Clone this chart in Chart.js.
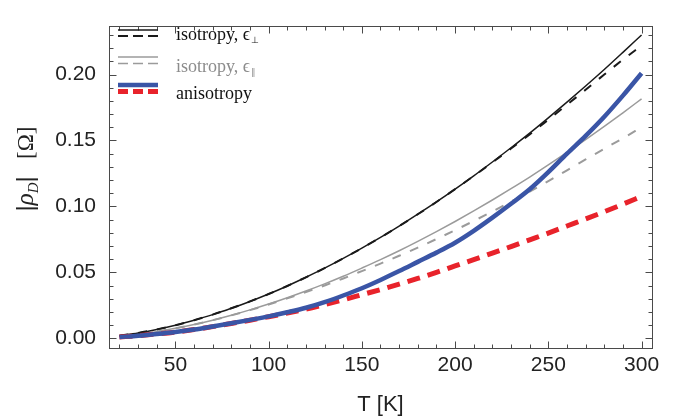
<!DOCTYPE html>
<html><head><meta charset="utf-8">
<script src="https://cdn.jsdelivr.net/npm/chart.js@4.4.0/dist/chart.umd.min.js"></script>
<style>html,body{margin:0;padding:0;background:#fff;}#wrap{width:674px;height:416px;}</style>
</head><body><div id="wrap"><canvas id="c" width="674" height="416"></canvas></div>
<script>
// ---- data ----
const temperatures = [20,30,40,50,60,70,80,90,100,110,120,130,140,150,160,170,180,190,200,210,220,230,240,250,260,270,280,290,300];
const isoPerpSolid = [0.0020,0.0041,0.0068,0.0100,0.0138,0.0180,0.0228,0.0280,0.0336,0.0397,0.0463,0.0532,0.0606,0.0684,0.0765,0.0851,0.0941,0.1034,0.1131,0.1232,0.1337,0.1445,0.1556,0.1672,0.1791,0.1913,0.2038,0.2168,0.2300];
const isoPerpDashed = [0.0020,0.0041,0.0068,0.0100,0.0138,0.0180,0.0228,0.0280,0.0336,0.0397,0.0463,0.0532,0.0606,0.0684,0.0765,0.0851,0.0941,0.1034,0.1131,0.1231,0.1334,0.1439,0.1546,0.1658,0.1771,0.1885,0.2000,0.2113,0.2220];
const isoParSolid = [0.0015,0.0031,0.0051,0.0076,0.0105,0.0138,0.0175,0.0216,0.0260,0.0308,0.0359,0.0413,0.0471,0.0533,0.0597,0.0664,0.0735,0.0809,0.0886,0.0966,0.1049,0.1135,0.1223,0.1315,0.1410,0.1507,0.1607,0.1710,0.1816];
const isoParDashed = [0.0015,0.0031,0.0051,0.0076,0.0105,0.0138,0.0174,0.0214,0.0257,0.0303,0.0351,0.0401,0.0454,0.0510,0.0567,0.0626,0.0688,0.0753,0.0820,0.0890,0.0962,0.1037,0.1113,0.1192,0.1274,0.1357,0.1437,0.1517,0.1600];
const anisoSolid = [0.0010,0.0020,0.0033,0.0048,0.0067,0.0090,0.0114,0.0140,0.0167,0.0198,0.0232,0.0275,0.0325,0.0380,0.0443,0.0510,0.0580,0.0650,0.0725,0.0815,0.0915,0.1020,0.1130,0.1260,0.1400,0.1535,0.1680,0.1840,0.2010];
const anisoDashed = [0.0010,0.0020,0.0033,0.0048,0.0067,0.0089,0.0113,0.0138,0.0164,0.0192,0.0222,0.0256,0.0292,0.0331,0.0370,0.0411,0.0454,0.0500,0.0550,0.0597,0.0646,0.0696,0.0747,0.0798,0.0852,0.0905,0.0960,0.1017,0.1076];
const xTickValues = [50,100,150,200,250,300];
const yTickValues = [0.00,0.05,0.10,0.15,0.20];
const legendLabels = ['isotropy, \u03F5', 'isotropy, \u03F5', 'anisotropy'];
const legendSubs = ['\u22A5', '\u2225', ''];
const xTitle = 'T [K]';

// ---- styles ----
const BLACK = '#1a1a1a', GRAY = '#9b9b9b', BLUE = '#3a55a6', RED = '#e8232b';
const pts = arr => temperatures.map((t, i) => ({x: t, y: arr[i]}));
function ds(arr, color, width, dash) {
  return {data: pts(arr), borderColor: color, borderWidth: width, borderDash: dash || [],
    pointRadius: 0, fill: false, cubicInterpolationMode: 'monotone', borderCapStyle: 'butt'};
}

const framePlugin = {
  id: 'frame',
  afterDraw(chart) {
    const ctx = chart.ctx, a = chart.chartArea;
    const xs = chart.scales.x, ys = chart.scales.y;
    ctx.save();
    ctx.setLineDash([]);
    ctx.strokeStyle = '#4a4a4a'; ctx.lineWidth = 1;
    const L = Math.round(a.left) + 0.5, R = Math.round(a.right) + 0.5, T = Math.round(a.top) + 0.5, B = Math.round(a.bottom) + 0.5;
    ctx.strokeRect(L, T, R - L, B - T);
    ctx.beginPath();
    for (let t = 20; t <= 300; t += 10) {
      const px = Math.round(xs.getPixelForValue(t)) + 0.5;
      const len = (t % 50 === 0) ? 7 : 4;
      ctx.moveTo(px, B); ctx.lineTo(px, B - len);
      ctx.moveTo(px, T); ctx.lineTo(px, T + len);
    }
    for (let k = 0; k <= 23; k++) {
      const v = k / 100;
      const py = Math.round(ys.getPixelForValue(v)) + 0.5;
      const len = (k % 5 === 0) ? 7 : 4;
      ctx.moveTo(L, py); ctx.lineTo(L + len, py);
      ctx.moveTo(R, py); ctx.lineTo(R - len, py);
    }
    ctx.stroke();

    // legend
    const rows = [
      {y1: 30, y2: 36, c1: BLACK, c2: BLACK, w1: 1.5, w2: 2, d2: [10, 5], tc: '#111', base: 40},
      {y1: 57, y2: 63.5, c1: GRAY, c2: GRAY, w1: 1.5, w2: 1.5, d2: [10, 5], tc: '#8c8c8c', base: 72},
      {y1: 85, y2: 91.5, c1: BLUE, c2: RED, w1: 4.5, w2: 5, d2: [10, 5], tc: '#111', base: 99}
    ];
    rows.forEach((r, i) => {
      ctx.setLineDash([]); ctx.strokeStyle = r.c1; ctx.lineWidth = r.w1;
      ctx.beginPath(); ctx.moveTo(118, r.y1); ctx.lineTo(158, r.y1); ctx.stroke();
      ctx.setLineDash(r.d2); ctx.strokeStyle = r.c2; ctx.lineWidth = r.w2;
      ctx.beginPath(); ctx.moveTo(118, r.y2); ctx.lineTo(160, r.y2); ctx.stroke();
      ctx.setLineDash([]);
      ctx.fillStyle = r.tc; ctx.textBaseline = 'alphabetic'; ctx.textAlign = 'left';
      ctx.font = '18px "Liberation Serif"';
      ctx.fillText(legendLabels[i], 176, r.base);
      if (legendSubs[i]) {
        const w = ctx.measureText(legendLabels[i]).width;
        ctx.font = '9px "DejaVu Sans"';
        ctx.fillText(legendSubs[i], 176 + w + 1, r.base + 3);
      }
    });

    // y title  |ρ_D|  [Ω]
    ctx.save();
    ctx.translate(25, 169);
    ctx.rotate(-Math.PI / 2);
    ctx.fillStyle = '#222';
    ctx.textBaseline = 'alphabetic';
    const parts = [
      {t: '|', f: '24px "Liberation Sans"', dy: 0},
      {t: '\u03C1', f: 'italic 25px "Liberation Serif"', dy: 0},
      {t: 'D', f: 'italic 15px "Liberation Serif"', dy: 5},
      {t: '|', f: '24px "Liberation Sans"', dy: 0},
      {t: '\u2002 [\u03A9]', f: '23px "Liberation Serif"', dy: 0}
    ];
    let total = 0;
    parts.forEach(p => { ctx.font = p.f; p.w = ctx.measureText(p.t).width; total += p.w; });
    let x = -total / 2;
    parts.forEach(p => { ctx.font = p.f; ctx.fillText(p.t, x, 8 + p.dy); x += p.w; });
    ctx.restore();
    ctx.restore();
  }
};

new Chart(document.getElementById('c'), {
  type: 'line',
  data: {
    datasets: [
      ds(anisoSolid, BLUE, 4.5),
      ds(anisoDashed, RED, 5, [13, 8]),
      ds(isoPerpSolid, BLACK, 1.5),
      ds(isoPerpDashed, BLACK, 2, [9, 10]),
      ds(isoParSolid, GRAY, 1.5),
      ds(isoParDashed, GRAY, 2, [9, 10])
    ]
  },
  options: {
    responsive: false, animation: false, devicePixelRatio: 1,
    layout: {padding: {top: 12, right: 22, left: 0, bottom: 0}},
    plugins: {legend: {display: false}, tooltip: {enabled: false}, title: {display: false}},
    scales: {
      x: {
        type: 'linear', min: 14.4, max: 305.6,
        afterBuildTicks: s => { s.ticks = xTickValues.map(v => ({value: v})); },
        afterFit: s => { s.height = 68; },
        grid: {display: false, drawTicks: false},
        border: {display: false},
        ticks: {color: '#222', font: {family: 'Liberation Sans', size: 21}, padding: 5, maxRotation: 0, autoSkip: false,
          callback: v => String(v)},
        title: {display: true, text: xTitle, color: '#222', font: {family: 'Liberation Sans', size: 22}, padding: {top: 0, bottom: -2}}
      },
      y: {
        type: 'linear', min: -0.0073, max: 0.2371,
        afterBuildTicks: s => { s.ticks = yTickValues.map(v => ({value: v})); },
        afterFit: s => { s.width = 109; },
        grid: {display: false, drawTicks: false},
        border: {display: false},
        ticks: {color: '#222', font: {family: 'Liberation Sans', size: 21}, padding: 13, autoSkip: false,
          callback: v => Number(v).toFixed(2)}
      }
    }
  },
  plugins: [framePlugin]
});
</script></body></html>
